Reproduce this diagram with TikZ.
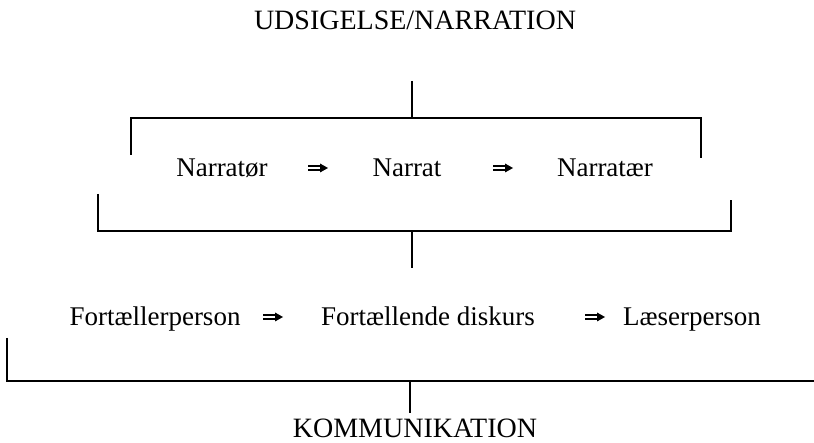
\documentclass[tikz,border=0pt]{standalone}
\usepackage{fontspec}
\setmainfont{Liberation Serif}
\begin{document}
\begin{tikzpicture}[x=1pt,y=-1pt,
  lbl/.style={anchor=base,inner sep=0pt,font=\fontsize{27}{30}\selectfont},
  head/.style={anchor=base,inner sep=0pt,font=\fontsize{28}{32}\selectfont},
  impl/.style={minimum width=20pt,minimum height=9pt,inner sep=0pt,
    path picture={
      \fill ([yshift=0.9pt]path picture bounding box.west) rectangle
            ([xshift=-6pt,yshift=2.6pt]path picture bounding box.east);
      \fill ([yshift=-0.9pt]path picture bounding box.west) rectangle
            ([xshift=-6pt,yshift=-2.6pt]path picture bounding box.east);
      \fill ([xshift=-8pt,yshift=4.5pt]path picture bounding box.east) --
            (path picture bounding box.east) --
            ([xshift=-8pt,yshift=-4.5pt]path picture bounding box.east) -- cycle;}},
  brk/.style={line width=1.3pt}]
  \useasboundingbox (0,0) rectangle (814,443);
  \node[head] (udsig) at (415,30) {UDSIGELSE/NARRATION};
  % narration row
  \coordinate (nTop) at (412,81);
  \coordinate (nHub) at (412,118);
  \draw[brk] (nTop) -- (nHub);
  \draw[brk] (131,155) |- (nHub) -| (701,158);
  \node[lbl] (narrator) at (222,177) {Narratør};
  \node[impl] (i1) at (318,168) {};
  \node[lbl] (narrat) at (407,177) {Narrat};
  \node[impl] (i2) at (503,168) {};
  \node[lbl] (narratar) at (605,177) {Narratær};
  \coordinate (mHub) at (412,231);
  \coordinate (mLow) at (412,268);
  \draw[brk] (98,194) |- (mHub) -| (731,200);
  \draw[brk] (mHub) -- (mLow);
  % kommunikation row
  \node[lbl] (fperson) at (155,326) {Fortællerperson};
  \node[impl] (i3) at (273,317) {};
  \node[lbl] (diskurs) at (428,326) {Fortællende diskurs};
  \node[impl] (i4) at (595,317) {};
  \node[lbl] (lperson) at (692,326) {Læserperson};
  \coordinate (kHub) at (410,381);
  \draw[brk] (7,338) |- (kHub) -- (814,381);
  \draw[brk] (kHub) -- (410,413);
  \node[head] (komm) at (415,437) {KOMMUNIKATION};
\end{tikzpicture}
\end{document}
